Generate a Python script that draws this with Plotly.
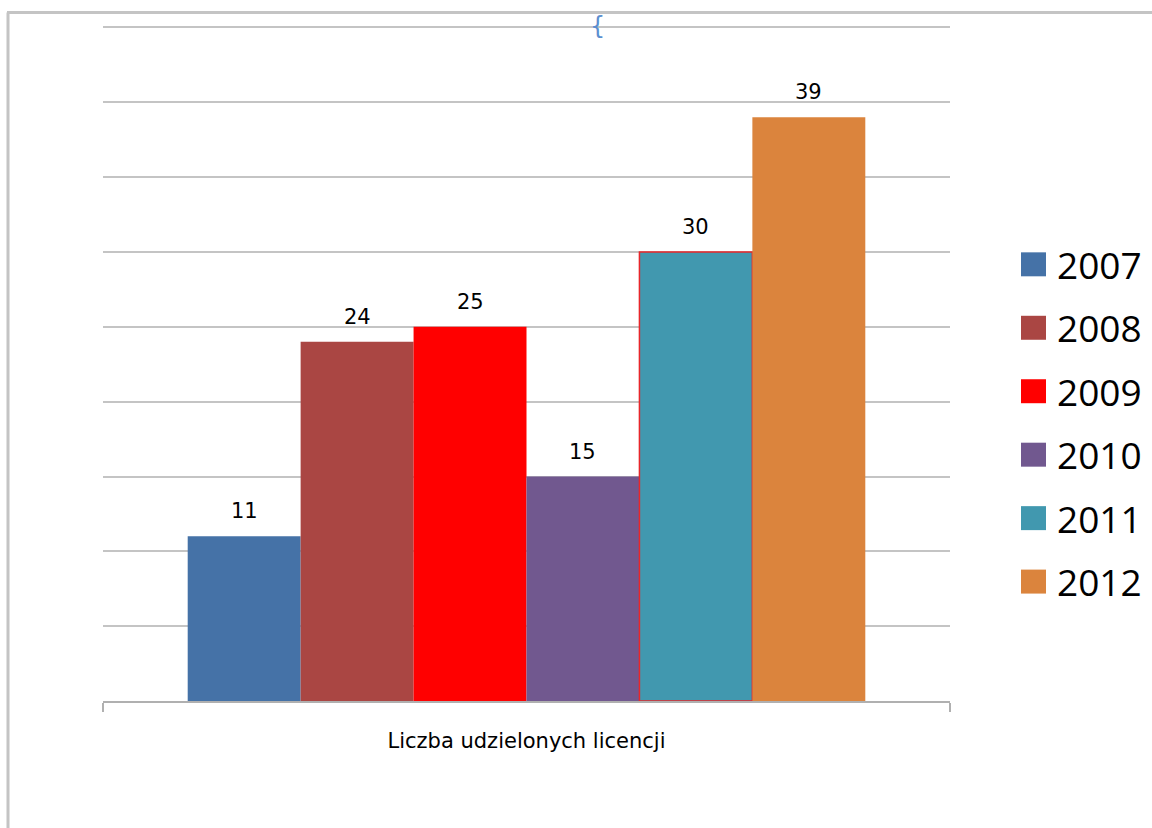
import plotly.graph_objects as go

category = "Liczba udzielonych licencji"
years = ["2007", "2008", "2009", "2010", "2011", "2012"]
values = [11, 24, 25, 15, 30, 39]
colors = ["#4572A7", "#AA4643", "#FF0000", "#71588F", "#4198AF", "#DB843D"]
outline_colors = ["rgba(0,0,0,0)"] * 4 + ["#E8262A", "rgba(0,0,0,0)"]
outline_widths = [0, 0, 0, 0, 1.5, 0]
grid_ticks = [5, 10, 15, 20, 25, 30, 35, 40, 45]

W, H = 1152, 828
Y_MAX = 45.3
L, R, T, B = 103, 202, 22.5, 127
pw, ph = W - L - R, H - T - B
BARGAP = 0.2

def px_x(p):
    return (p - L) / pw

def px_y(p):
    return (H - B - p) / ph

fig = go.Figure()
n = len(years)
annotations = []
for i, (yr, v, c, lc, lw) in enumerate(zip(years, values, colors, outline_colors, outline_widths)):
    fig.add_trace(go.Bar(
        x=[category], y=[v], name=yr,
        marker=dict(color=c, line=dict(color=lc, width=lw)),
        showlegend=False,
    ))
    # data label above the bar (bar centre follows plotly's grouped layout)
    xc = -(1 - BARGAP) / 2 + (i + 0.5) * (1 - BARGAP) / n
    annotations.append(dict(xref="x", yref="y", x=xc, y=v, text=str(v), showarrow=False,
                            xanchor="center", yanchor="middle", yshift=25,
                            font=dict(family="DejaVu Sans", size=21, color="#000000")))

shapes = []
# manual legend
row0, step = 264, 63.5
for i, (yr, c) in enumerate(zip(years, colors)):
    cy = row0 + i * step
    shapes.append(dict(type="rect", xref="paper", yref="paper",
                       x0=px_x(1021), x1=px_x(1046), y0=px_y(cy - 12), y1=px_y(cy + 12),
                       fillcolor=c, line=dict(width=0)))
    annotations.append(dict(xref="paper", yref="paper", x=px_x(1055), y=px_y(cy),
                            text=yr, showarrow=False, xanchor="left", yanchor="middle",
                            font=dict(family="Open Sans", size=37, color="#000000")))

# outer frame (left and top)
shapes.append(dict(type="line", xref="paper", yref="paper",
                   x0=px_x(8), x1=px_x(8), y0=px_y(12), y1=px_y(830),
                   line=dict(color="#C4C4C4", width=3)))
shapes.append(dict(type="line", xref="paper", yref="paper",
                   x0=px_x(7), x1=px_x(1154), y0=px_y(12), y1=px_y(12),
                   line=dict(color="#C4C4C4", width=3)))

annotations.append(dict(xref="paper", yref="paper", x=px_x(597), y=px_y(26),
                        text="{", showarrow=False, xanchor="center", yanchor="middle",
                        font=dict(family="DejaVu Sans", size=24, color="#5B8FD0")))

fig.update_layout(
    width=W, height=H,
    margin=dict(l=L, r=R, t=T, b=B, autoexpand=False),
    paper_bgcolor="white", plot_bgcolor="white",
    barmode="group", bargap=BARGAP, bargroupgap=0,
    showlegend=False,
    shapes=shapes, annotations=annotations,
    xaxis=dict(type="category", showline=True, linecolor="#B0B0B0", linewidth=2,
               ticks="outside", tickson="boundaries", ticklen=9, tickcolor="#B0B0B0",
               tickwidth=2, showgrid=False, ticklabelstandoff=20,
               tickfont=dict(family="DejaVu Sans", size=21, color="#000000")),
    yaxis=dict(range=[0, Y_MAX], tickvals=grid_ticks,
               showgrid=True, gridcolor="#C4C4C4", gridwidth=2,
               showticklabels=False, zeroline=False, showline=False, ticks=""),
)

fig.write_html("out.html", config={"displayModeBar": False},
               post_script="document.body.style.margin='0';")
